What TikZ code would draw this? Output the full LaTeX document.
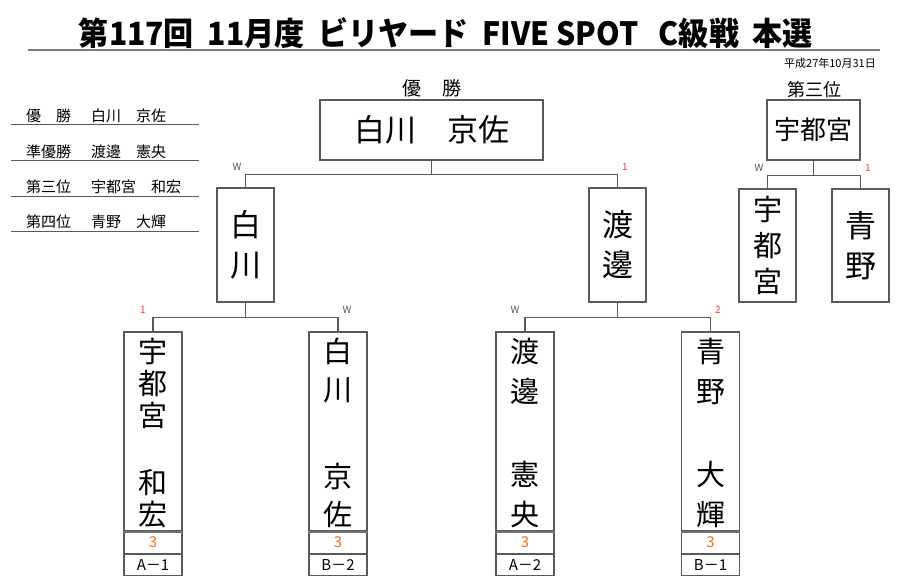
\documentclass[tikz,border=0pt]{standalone}
\usepackage{fontspec}
\setmainfont{Noto Sans CJK JP}
\usetikzlibrary{positioning}
\definecolor{linegray}{HTML}{5A5A5A}
\definecolor{tagred}{HTML}{FF3B3B}
\definecolor{scoreorange}{HTML}{FF6A13}
\newcommand{\vname}[3]{\parbox[c][190pt][s]{50pt}{\centering\fontsize{29}{#1}\selectfont\vspace*{3pt}#2\par\vfill #3\par}}
\tikzset{
  box/.style={draw=linegray, line width=1.1pt, inner sep=0pt, fill=white},
  link/.style={draw=linegray, line width=1.1pt},
  wtag/.style={font=\fontsize{10}{10}\selectfont, text=linegray, inner sep=0pt},
  ntag/.style={font=\fontsize{10}{10}\selectfont, text=tagred, inner sep=0pt},
  rankline/.style={draw=linegray, line width=0.9pt},
  cell/.style={box, minimum width=58pt, minimum height=21pt, font=\fontsize{15}{15}\selectfont},
}
\begin{document}
\begin{tikzpicture}[x=1pt,y=-1pt]
  \useasboundingbox (0,0) rectangle (900,587);
  \node[inner sep=0pt, font=\fontsize{32}{32}\selectfont\bfseries] (title) at (446,33) {\scalebox{0.94}[1]{第117回\ \ 11月度\ \ ビリヤード\ \ FIVE SPOT\ \ \ C級戦\ \ 本選}};
  \draw[line width=2.4pt, draw=linegray!80] (28,50) -- (880,50);
  \node[inner sep=0pt, anchor=east, font=\fontsize{11}{11}\selectfont] (date) at (876,63) {平成27年10月31日};

  \node[inner sep=0pt, anchor=west, font=\fontsize{15}{15}\selectfont] (r1) at (26,116) {優　勝\hspace{20pt}白川　京佐};
  \node[inner sep=0pt, anchor=west, font=\fontsize{15}{15}\selectfont] (r2) at (26,152) {準優勝\hspace{20pt}渡邊　憲央};
  \node[inner sep=0pt, anchor=west, font=\fontsize{15}{15}\selectfont] (r3) at (26,187) {第三位\hspace{20pt}宇都宮　和宏};
  \node[inner sep=0pt, anchor=west, font=\fontsize{15}{15}\selectfont] (r4) at (26,222) {第四位\hspace{20pt}青野　大輝};
  \draw[rankline] (11,124) -- (199,124);
  \draw[rankline] (11,160) -- (199,160);
  \draw[rankline] (11,196) -- (199,196);
  \draw[rankline] (11,231) -- (199,231);

  \node[inner sep=0pt, font=\fontsize{19}{19}\selectfont] (wintitle) at (432,88) {優\hspace{22pt}勝};
  \node[inner sep=0pt, font=\fontsize{18}{18}\selectfont] (thirdtitle) at (814,90) {第三位};

  \node[box, minimum width=223pt, minimum height=60pt, font=\fontsize{31}{31}\selectfont] (champ) at (431.5,130) {白川　京佐};
  \node[box, minimum width=57pt, minimum height=114pt, align=center, font=\fontsize{31}{40}\selectfont] (semiL) at (245.5,245) {白\\川};
  \node[box, minimum width=57pt, minimum height=114pt, align=center, font=\fontsize{31}{40}\selectfont] (semiR) at (617.5,245) {渡\\邊};

  \node[box, minimum width=93pt, minimum height=60pt, font=\fontsize{26}{26}\selectfont] (third) at (813.5,130) {宇都宮};
  \node[box, minimum width=57pt, minimum height=113pt, align=center, font=\fontsize{29}{36}\selectfont] (thirdL) at (767.5,245.5) {宇\\都\\宮};
  \node[box, minimum width=57pt, minimum height=113pt, align=center, font=\fontsize{31}{40}\selectfont] (thirdR) at (860.5,245.5) {青\\野};

  \node[box, minimum width=58pt, minimum height=199pt] (qa) at (153,431.5) {\vname{32}{宇\\都\\宮}{和\\宏}};
  \node[box, minimum width=58pt, minimum height=199pt] (qb) at (338,431.5) {\vname{38}{白\\川}{京\\佐}};
  \node[box, minimum width=58pt, minimum height=199pt] (qc) at (525,431.5) {\vname{40}{渡\\邊}{憲\\央}};
  \node[box, minimum width=58pt, minimum height=199pt] (qd) at (710.5,431.5) {\vname{40}{青\\野}{大\\輝}};

  \node[cell, text=scoreorange, below=0pt of qa] (sa) {3};
  \node[cell, text=scoreorange, below=0pt of qb] (sb) {3};
  \node[cell, text=scoreorange, below=0pt of qc] (sc) {3};
  \node[cell, text=scoreorange, below=0pt of qd] (sd) {3};
  \node[cell, below=0pt of sa] (la) {A－1};
  \node[cell, below=0pt of sb] (lb) {B－2};
  \node[cell, below=0pt of sc] (lc) {A－2};
  \node[cell, below=0pt of sd] (ld) {B－1};
  \draw[line width=2pt, draw=linegray!85] (sa.north west) -- (sa.north east);
  \draw[line width=2pt, draw=linegray!85] (sb.north west) -- (sb.north east);
  \draw[line width=2pt, draw=linegray!85] (sc.north west) -- (sc.north east);
  \draw[line width=2pt, draw=linegray!85] (sd.north west) -- (sd.north east);

  \begin{scope}[link]
    \draw (champ.south) -- ++(0,14) -| (semiL.north);
    \draw (champ.south) ++(0,14) -| (semiR.north);
    \draw (semiL.south) -- ++(0,15) -| (qa.north);
    \draw (semiL.south) ++(0,15) -| (qb.north);
    \draw (semiR.south) -- ++(0,15) -| (qc.north);
    \draw (semiR.south) ++(0,15) -| (qd.north);
    \draw (third.south) -- ++(0,15) -| (thirdL.north);
    \draw (third.south) ++(0,15) -| (thirdR.north);
  \end{scope}

  \node[wtag] (wsemiL) at (237,167) {W};
  \node[ntag] (nsemiR) at (625,167) {1};
  \node[ntag] (nqa) at (143,310) {1};
  \node[wtag] (wqb) at (347,310) {W};
  \node[wtag] (wqc) at (515,310) {W};
  \node[ntag] (nqd) at (718,310) {2};
  \node[wtag] (wthirdL) at (759,168) {W};
  \node[ntag] (nthirdR) at (868,168) {1};
\end{tikzpicture}
\end{document}
